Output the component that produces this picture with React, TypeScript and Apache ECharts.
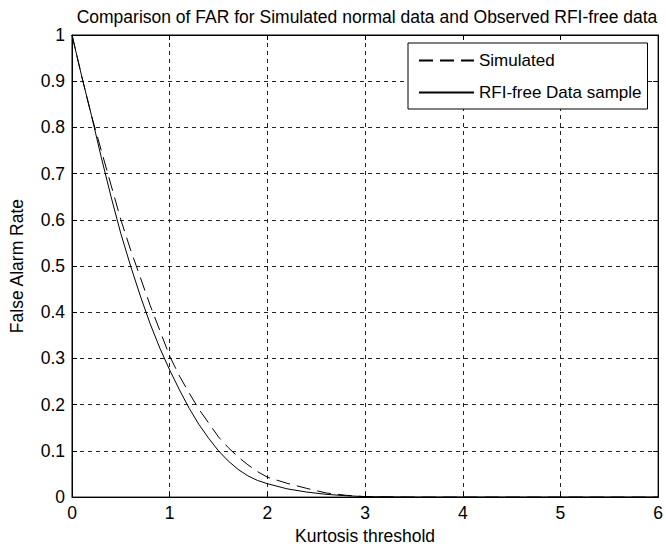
import React, { useEffect, useRef } from "react";
import * as echarts from "echarts";

const thresholds = [0, 0.1, 0.2, 0.3, 0.4, 0.5, 0.6, 0.7, 0.8, 0.9, 1.0, 1.1, 1.2, 1.3, 1.4, 1.5, 1.6, 1.7, 1.8, 1.9, 2.0, 2.2, 2.4, 2.6, 2.8, 3.0, 3.5, 4, 5, 6];
const simulated = [1.0, 0.91, 0.825, 0.75, 0.675, 0.6, 0.535, 0.475, 0.415, 0.36, 0.305, 0.262, 0.225, 0.19, 0.16, 0.13, 0.107, 0.087, 0.07, 0.055, 0.043, 0.03, 0.019, 0.009, 0.004, 0.001, 0, 0, 0, 0];
const rfiFree = [1.0, 0.91, 0.825, 0.735, 0.65, 0.57, 0.5, 0.435, 0.375, 0.322, 0.275, 0.232, 0.192, 0.157, 0.127, 0.1, 0.078, 0.06, 0.046, 0.036, 0.029, 0.018, 0.011, 0.006, 0.003, 0.001, 0, 0, 0, 0];
const seriesNames = ["Simulated", "RFI-free Data sample"];
const titleText = "Comparison of FAR for Simulated normal data and Observed RFI-free data";
const xLabel = "Kurtosis threshold";
const yLabel = "False Alarm Rate";

const FONT = "'Liberation Sans', Arial, sans-serif";

export default function App() {
  const ref = useRef<HTMLDivElement>(null);
  useEffect(() => {
    if (!ref.current) return;
    const chart = echarts.init(ref.current, undefined, { renderer: "svg" });
    const pairs = (ys: number[]) => thresholds.map((x, i) => [x, ys[i]]);
    const axisCommon = {
      axisLine: { show: true, onZero: false, lineStyle: { color: "#000", width: 1 } },
      axisTick: { show: true, inside: true, length: 5, lineStyle: { color: "#000" } },
    };
    chart.setOption({
      animation: false,
      backgroundColor: "#fff",
      textStyle: { fontFamily: FONT },
      title: {
        text: titleText,
        left: 362,
        textAlign: "center",
        top: 3,
        textStyle: { fontSize: 17.5, fontWeight: "normal", color: "#000", fontFamily: FONT },
      },
      legend: {
        orient: "vertical",
        left: 408,
        top: 43,
        padding: [9, 6, 8, 10],
        itemGap: 15,
        itemWidth: 55,
        itemHeight: 14,
        backgroundColor: "#fff",
        borderColor: "#000",
        borderWidth: 1,
        borderRadius: 0,
        itemStyle: { color: "transparent", borderColor: "transparent", borderWidth: 0, opacity: 0 },
        textStyle: { fontSize: 17, color: "#000", fontFamily: FONT, padding: [0, 0, 0, 0] },
        data: seriesNames,
      },
      grid: { left: 69, right: 5, top: 35, bottom: 52, show: true, borderColor: "#000", borderWidth: 1 },
      xAxis: [
        {
          type: "value",
          min: 0,
          max: 6,
          interval: 1,
          name: xLabel,
          nameLocation: "middle",
          nameGap: 28,
          nameTextStyle: { fontSize: 17.5, color: "#000", fontFamily: FONT },
          ...axisCommon,
          axisLabel: { fontSize: 17.5, color: "#000", margin: 7, fontFamily: FONT },
          splitLine: { show: true, lineStyle: { color: "#222", type: [4, 4], width: 1 } },
        },
        {
          type: "value",
          position: "top",
          min: 0,
          max: 6,
          interval: 1,
          ...axisCommon,
          axisLabel: { show: false },
          splitLine: { show: false },
        },
      ],
      yAxis: [
        {
          type: "value",
          min: 0,
          max: 1,
          interval: 0.1,
          name: yLabel,
          nameLocation: "middle",
          nameGap: 46,
          nameRotate: 90,
          nameTextStyle: { fontSize: 17.5, color: "#000", fontFamily: FONT },
          ...axisCommon,
          axisLabel: {
            fontSize: 17.5,
            color: "#000",
            margin: 7,
            fontFamily: FONT,
            formatter: (v: number) => String(Math.round(v * 10) / 10),
          },
          splitLine: { show: true, lineStyle: { color: "#222", type: [4, 4], width: 1 } },
        },
        {
          type: "value",
          position: "right",
          min: 0,
          max: 1,
          interval: 0.1,
          ...axisCommon,
          axisLabel: { show: false },
          splitLine: { show: false },
        },
      ],
      series: [
        {
          name: seriesNames[0],
          type: "line",
          data: pairs(simulated),
          symbol: "none",
          smooth: false,
          lineStyle: { color: "#000", width: 1, type: [14, 7] },
          itemStyle: { color: "#000" },
          z: 3,
        },
        {
          name: seriesNames[1],
          type: "line",
          data: pairs(rfiFree),
          symbol: "none",
          smooth: false,
          lineStyle: { color: "#000", width: 1, type: "solid" },
          itemStyle: { color: "#000" },
          z: 3,
        },
      ],
    });
    return () => chart.dispose();
  }, []);
  return <div ref={ref} style={{ width: 666, height: 550, position: "absolute", left: 0, top: 0 }} />;
}
